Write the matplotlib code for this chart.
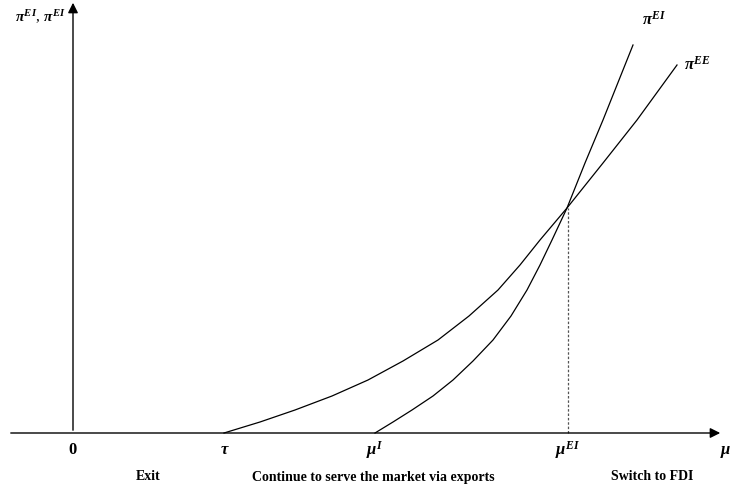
import numpy as np
import matplotlib.pyplot as plt

plt.rcParams['font.family'] = ['Liberation Serif', 'DejaVu Serif']
plt.rcParams['mathtext.fontset'] = 'custom'
plt.rcParams['mathtext.rm'] = 'Liberation Serif:bold'
plt.rcParams['mathtext.it'] = 'Liberation Serif:italic:bold'
plt.rcParams['mathtext.bf'] = 'Liberation Serif:bold'

# points (x from the vertical axis, y above the horizontal one)
ee_x = [151, 187, 222, 259, 295, 330, 365, 396, 425, 447, 467, 494, 530, 564, 604]
ee_y = [0, 11, 23, 37, 53, 72, 93, 117, 143, 168, 193, 225, 270, 313, 368]
ei_x = [302, 320, 339, 360, 380, 400, 420, 438, 454, 467, 479, 494, 512, 530, 560]
ei_y = [0, 11, 23, 37, 53, 72, 93, 117, 143, 168, 193, 225, 270, 313, 388]

ticks = [0, 152, 302, 495]
tick_labels = ['0', r'$τ$', r'$μ^{I}$', r'$μ^{EI}$']
regions = ['Exit', 'Continue to serve the market via exports', 'Switch to FDI']
region_pos = [75, 300, 579]
cross_x, cross_y = 495, 225

fig = plt.figure(figsize=(7.35, 4.91), dpi=100)
ax = fig.add_axes([0, 0, 1, 1])
ax.set_xlim(-73, 662)
ax.set_ylim(-58, 433)
ax.axis('off')

# axes with arrows
ax.annotate('', xy=(650, 0), xytext=(-65, 0),
            arrowprops=dict(arrowstyle='-|>', color='black', lw=1.0, mutation_scale=15))
ax.annotate('', xy=(0, 433), xytext=(0, 0),
            arrowprops=dict(arrowstyle='-|>', color='black', lw=1.0, mutation_scale=15))

ax.plot(ee_x, ee_y, color='black', lw=0.9)
ax.plot(ei_x, ei_y, color='black', lw=0.9)
ax.plot([cross_x, cross_x], [0, cross_y], color='#555555', lw=0.9, ls=(0, (2, 1.5)))

for t, lab in zip(ticks, tick_labels):
    ax.text(t, -17, lab, ha='center', va='center', fontsize=12, fontweight='bold')
ax.text(653, -19, r'$μ$', ha='center', va='center', fontsize=12)

for p, lab in zip(region_pos, regions):
    ax.text(p, -44, lab, ha='center', va='center', fontsize=10, fontweight='bold')

ax.text(-58, 416, r'$π^{EI}$, $π^{EI}$', ha='left', va='center', fontsize=11)
ax.text(569, 413, r'$π^{EI}$', ha='left', va='center', fontsize=12)
ax.text(611, 368, r'$π^{EE}$', ha='left', va='center', fontsize=12)

fig.savefig('out.png', dpi=100)
